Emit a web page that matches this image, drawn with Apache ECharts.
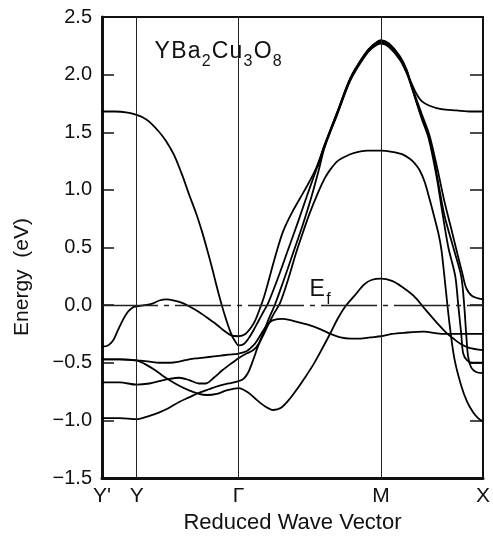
<!DOCTYPE html>
<html><head><meta charset="utf-8">
<script src="https://cdn.jsdelivr.net/npm/echarts@6/dist/echarts.min.js"></script>
<style>html,body{margin:0;padding:0;background:#fff}#c{width:493px;height:539px}</style>
</head><body><div id="c"></div>
<script>
// k-path positions (arbitrary units along the reduced wave vector path)
const kPoints = [0, 35, 138, 282, 385];
const kLabels = ["Y'", "Y", "\u0393", "M", "X"];
const yTickValues = [-1.5, -1.0, -0.5, 0.0, 0.5, 1.0, 1.5, 2.0, 2.5];
const yTickLabels = ["\u22121.5", "\u22121.0", "\u22120.5", "0.0", "0.5", "1.0", "1.5", "2.0", "2.5"];
const fermiEnergy = 0.0;

// bands: [k, energy (eV)]
const bandB = [[0,-0.36],[6,-0.35],[11,-0.31],[16,-0.22],[21,-0.13],[26,-0.06],[31,-0.02],[35,-0.01],[43,0.0],[50,0.01],[58,0.04],[65,0.05],[73,0.04],[81,0.02],[88,-0.01],[98,-0.06],[108,-0.12],[116,-0.17],[123,-0.22],[130,-0.26],[138,-0.27],[145,-0.25],[151,-0.19],[155,-0.13],[160,-0.02],[164,0.08],[168,0.2],[175,0.42],[183,0.64],[193,0.82],[205,1.0],[216,1.18],[225,1.39],[238,1.68],[251,1.97],[265,2.17],[273,2.25],[282,2.29],[290,2.26],[301,2.15],[308,2.03],[313,1.92],[318,1.83],[323,1.77],[331,1.73],[343,1.70],[358,1.69],[373,1.68],[385,1.68]];
const bandA = [[0,1.68],[13,1.68],[26,1.67],[35,1.65],[41,1.63],[48,1.59],[58,1.50],[65,1.42],[73,1.30],[81,1.13],[88,0.96],[95,0.80],[101,0.64],[106,0.49],[111,0.33],[116,0.16],[121,0.0],[126,-0.14],[131,-0.26],[135,-0.32],[138,-0.35],[143,-0.34],[148,-0.29],[153,-0.22],[158,-0.14],[163,-0.06],[168,0.02],[178,0.24],[188,0.48],[198,0.72],[208,0.97],[218,1.21],[225,1.38],[238,1.67],[251,1.96],[265,2.16],[273,2.24],[282,2.28],[290,2.25],[301,2.14],[308,2.02],[313,1.90],[323,1.66],[331,1.47],[339,1.18],[346,0.90],[353,0.66],[359,0.45],[364,0.28],[368,0.15],[374,0.08],[385,0.05]];
const band4 = [[0,-0.67],[18,-0.67],[35,-0.69],[48,-0.68],[58,-0.66],[68,-0.64],[78,-0.63],[88,-0.65],[98,-0.68],[105,-0.68],[113,-0.63],[121,-0.57],[130,-0.51],[138,-0.46],[146,-0.42],[153,-0.39],[158,-0.34],[163,-0.24],[168,-0.13],[175,0.01],[183,0.2],[193,0.45],[203,0.7],[211,0.92],[219,1.17],[225,1.37],[238,1.66],[251,1.95],[265,2.15],[273,2.23],[282,2.27],[290,2.24],[301,2.13],[308,2.01],[313,1.89],[323,1.62],[330,1.45],[338,1.12],[344,0.80],[350,0.50],[357,0.25],[360,0.0],[363,-0.25],[365,-0.42],[369,-0.48],[374,-0.50],[385,-0.50]];
const bandD3 = [[218,1.20],[225,1.39],[238,1.68],[251,1.97],[265,2.17],[273,2.25],[282,2.30],[290,2.27],[301,2.16],[308,2.04],[313,1.89],[323,1.63],[331,1.45],[339,1.10],[346,0.78],[355,0.50],[363,0.25],[366,0.0],[368,-0.25],[370,-0.45],[373,-0.54],[378,-0.58],[385,-0.59]];
const bandL = [[0,-0.98],[18,-0.98],[35,-0.99],[48,-0.96],[58,-0.93],[68,-0.89],[78,-0.84],[88,-0.80],[98,-0.76],[108,-0.73],[118,-0.70],[128,-0.68],[138,-0.66],[143,-0.64],[148,-0.58],[153,-0.47],[158,-0.35],[163,-0.26],[168,-0.17],[174,-0.07],[180,0.02],[188,0.22],[196,0.45],[203,0.63],[210,0.8],[218,0.97],[225,1.10],[231,1.18],[238,1.25],[246,1.29],[255,1.32],[268,1.34],[282,1.34],[293,1.33],[303,1.31],[311,1.27],[316,1.23],[321,1.17],[326,1.07],[331,0.92],[335,0.79],[340,0.62],[343,0.48],[346,0.25],[351,-0.15],[356,-0.46],[363,-0.70],[369,-0.84],[375,-0.93],[380,-0.98],[385,-1.01]];
const band3 = [[0,-0.47],[18,-0.47],[35,-0.48],[43,-0.51],[53,-0.56],[61,-0.61],[68,-0.65],[78,-0.70],[88,-0.74],[98,-0.77],[106,-0.78],[116,-0.77],[126,-0.74],[138,-0.72],[148,-0.76],[156,-0.82],[165,-0.88],[173,-0.91],[181,-0.89],[190,-0.81],[197,-0.73],[205,-0.63],[214,-0.51],[223,-0.37],[231,-0.24],[238,-0.12],[246,-0.01],[255,0.08],[265,0.18],[273,0.22],[282,0.23],[293,0.21],[303,0.16],[315,0.08],[326,-0.03],[338,-0.15],[348,-0.24],[355,-0.29],[363,-0.34],[371,-0.37],[385,-0.39]];
const bandF = [[0,-0.47],[18,-0.47],[35,-0.48],[48,-0.49],[58,-0.50],[68,-0.50],[78,-0.49],[88,-0.47],[98,-0.46],[108,-0.45],[118,-0.44],[128,-0.43],[138,-0.42],[146,-0.40],[153,-0.35],[158,-0.29],[163,-0.22],[168,-0.16],[173,-0.13],[183,-0.12],[195,-0.14],[208,-0.17],[221,-0.21],[231,-0.25],[241,-0.28],[251,-0.29],[261,-0.29],[271,-0.28],[282,-0.27],[293,-0.25],[305,-0.24],[325,-0.23],[345,-0.25],[365,-0.25],[385,-0.25]];

const bands = [bandB, bandA, band4, bandD3, bandL, band3, bandF];
const FONT = "'Liberation Sans', Arial, sans-serif";
const INK = '#111';

const chart = echarts.init(document.getElementById('c'), null, {renderer: 'canvas'});
const series = bands.map(d => ({
  type: 'line', data: d, showSymbol: false, smooth: 0.3, silent: true,
  lineStyle: {color: '#000', width: 1.8}, z: 3
}));
series.push({
  type: 'line', data: [], silent: true,
  markLine: {
    symbol: 'none', silent: true, animation: false, label: {show: false},
    data: [
      {xAxis: kPoints[1], lineStyle: {color: '#222', width: 1, type: 'solid'}},
      {xAxis: kPoints[2], lineStyle: {color: '#222', width: 1, type: 'solid'}},
      {xAxis: kPoints[3], lineStyle: {color: '#222', width: 1, type: 'solid'}},
      {yAxis: fermiEnergy, lineStyle: {color: '#222', width: 1.3, type: [56, 6, 5, 6]}}
    ]
  }
});

const letter = {fontSize: 23, fontFamily: FONT, fill: INK, lineHeight: 26, verticalAlign: 'top', padding: [0, 0.6, 0, 0.6]};
const sub = {fontSize: 16, fontFamily: FONT, fill: INK, lineHeight: 30, verticalAlign: 'bottom', padding: [0, 0.6, 0, 0.6]};

chart.setOption({
  animation: false,
  backgroundColor: '#fff',
  grid: {left: 102, right: 6, top: 17, bottom: 57},
  xAxis: [{
    type: 'value', min: 0, max: 385, position: 'bottom',
    axisLine: {show: true, onZero: false, lineStyle: {color: INK, width: 3}},
    axisTick: {show: false}, splitLine: {show: false},
    axisLabel: {customValues: kPoints, formatter: v => kLabels[kPoints.indexOf(v)],
      fontSize: 21, color: INK, margin: 8, fontFamily: FONT},
    name: 'Reduced Wave Vector', nameLocation: 'middle', nameGap: 34,
    nameTextStyle: {fontSize: 22, color: INK, fontFamily: FONT}
  }, {
    type: 'value', min: 0, max: 385, position: 'top',
    axisLine: {show: true, onZero: false, lineStyle: {color: INK, width: 2}},
    axisTick: {show: false}, axisLabel: {show: false}, splitLine: {show: false}
  }],
  yAxis: [{
    type: 'value', min: -1.5, max: 2.5, interval: 0.5, position: 'left',
    axisLine: {show: true, onZero: false, lineStyle: {color: INK, width: 3}},
    axisTick: {show: true, inside: true, length: 12, lineStyle: {color: INK, width: 1.5}},
    axisLabel: {formatter: v => yTickLabels[yTickValues.findIndex(t => Math.abs(t - v) < 1e-6)],
      fontSize: 20, color: INK, margin: 10, fontFamily: FONT},
    splitLine: {show: false}
  }, {
    type: 'value', min: -1.5, max: 2.5, interval: 0.5, position: 'right',
    axisLine: {show: true, onZero: false, lineStyle: {color: INK, width: 2}},
    axisTick: {show: true, inside: true, length: 13, lineStyle: {color: INK, width: 1.5}},
    axisLabel: {show: false}, splitLine: {show: false}
  }],
  graphic: [
    {type: 'text', x: 22, y: 277, rotation: Math.PI / 2,
     style: {text: 'Energy  (eV)', font: '21px ' + FONT, fill: INK, align: 'center', verticalAlign: 'middle', textAlign: 'center', textVerticalAlign: 'middle'}},
    {type: 'text', x: 154, y: 40,
     style: {text: '{n|Y}{n|B}{n|a}{s|2}{n|C}{n|u}{s|3}{n|O}{s|8}', fill: INK, font: '23px ' + FONT,
       rich: {n: letter, s: sub}}},
    {type: 'text', x: 309, y: 278,
     style: {text: '{n|E}{s|f}', fill: INK, font: '23px ' + FONT,
       rich: {n: letter, s: sub}}}
  ],
  series: series
});
</script>
</body></html>
